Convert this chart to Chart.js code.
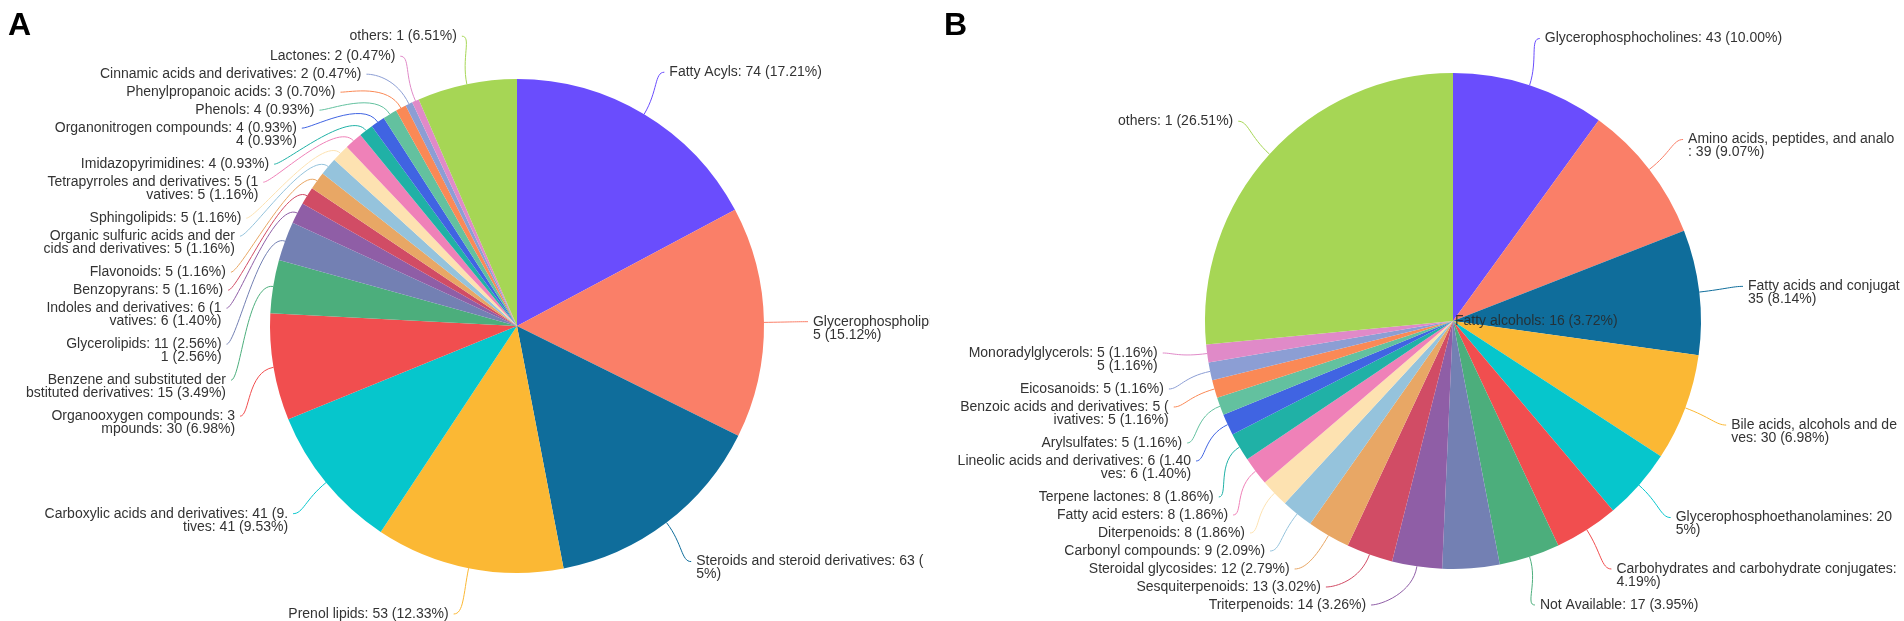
<!DOCTYPE html>
<html>
<head>
<meta charset="utf-8">
<script src="https://cdn.jsdelivr.net/npm/chart.js@4.4.1/dist/chart.umd.min.js"></script>
<style>
  html, body { margin: 0; padding: 0; background: #fff; }
  #wrap { position: relative; width: 1904px; height: 621px; overflow: hidden; }
  canvas { position: absolute; top: 0; }
  #chartA { left: 0; }
  #chartB { left: 930px; }
</style>
</head>
<body>
<div id="wrap">
  <canvas id="chartA" width="930" height="621"></canvas>
  <canvas id="chartB" width="974" height="621"></canvas>
</div>
<script>
// panel A
var catsA = ['Fatty Acyls', 'Glycerophospholipids', 'Steroids and steroid derivatives', 'Prenol lipids',
  'Carboxylic acids and derivatives', 'Organooxygen compounds', 'Benzene and substituted derivatives',
  'Glycerolipids', 'Indoles and derivatives', 'Benzopyrans', 'Flavonoids',
  'Organic sulfuric acids and derivatives', 'Sphingolipids', 'Tetrapyrroles and derivatives',
  'Imidazopyrimidines', 'Organonitrogen compounds', 'Phenols', 'Phenylpropanoic acids',
  'Cinnamic acids and derivatives', 'Lactones', 'others'];
var valuesA = [74, 65, 63, 53, 41, 30, 15, 11, 6, 5, 5, 5, 5, 5, 4, 4, 4, 3, 2, 2, 28];

// panel B
var catsB = ['Glycerophosphocholines', 'Amino acids, peptides, and analogues', 'Fatty acids and conjugates',
  'Bile acids, alcohols and derivatives', 'Glycerophosphoethanolamines',
  'Carbohydrates and carbohydrate conjugates', 'Not Available', 'Fatty alcohols', 'Triterpenoids',
  'Sesquiterpenoids', 'Steroidal glycosides', 'Carbonyl compounds', 'Diterpenoids', 'Fatty acid esters',
  'Terpene lactones', 'Lineolic acids and derivatives', 'Arylsulfates', 'Benzoic acids and derivatives',
  'Eicosanoids', 'Monoradylglycerols', 'others'];
var valuesB = [43, 39, 35, 30, 20, 18, 17, 16, 14, 13, 12, 9, 8, 8, 8, 6, 5, 5, 5, 5, 114];

// the "others" slice is labelled with count 1 in the figure
var othersShown = 1;

// labels that came out wrapped / cut in the figure
var wrapA = {
  'Glycerophospholipids': ['Glycerophospholipi', '5 (15.12%)'],
  'Steroids and steroid derivatives': ['Steroids and steroid derivatives: 63 (', '5%)'],
  'Carboxylic acids and derivatives': ['Carboxylic acids and derivatives: 41 (9.', 'tives: 41 (9.53%)'],
  'Organooxygen compounds': ['Organooxygen compounds: 3', 'mpounds: 30 (6.98%)'],
  'Benzene and substituted derivatives': ['Benzene and substituted der', 'bstituted derivatives: 15 (3.49%)'],
  'Glycerolipids': ['Glycerolipids: 11 (2.56%)', '1 (2.56%)'],
  'Indoles and derivatives': ['Indoles and derivatives: 6 (1', 'vatives: 6 (1.40%)'],
  'Organic sulfuric acids and derivatives': ['Organic sulfuric acids and der', 'cids and derivatives: 5 (1.16%)'],
  'Tetrapyrroles and derivatives': ['Tetrapyrroles and derivatives: 5 (1', 'vatives: 5 (1.16%)'],
  'Organonitrogen compounds': ['Organonitrogen compounds: 4 (0.93%)', '4 (0.93%)']
};
var wrapB = {
  'Amino acids, peptides, and analogues': ['Amino acids, peptides, and analo', ': 39 (9.07%)'],
  'Fatty acids and conjugates': ['Fatty acids and conjugat', '35 (8.14%)'],
  'Bile acids, alcohols and derivatives': ['Bile acids, alcohols and de', 'ves: 30 (6.98%)'],
  'Glycerophosphoethanolamines': ['Glycerophosphoethanolamines: 20', '5%)'],
  'Carbohydrates and carbohydrate conjugates': ['Carbohydrates and carbohydrate conjugates:', '4.19%)'],
  'Lineolic acids and derivatives': ['Lineolic acids and derivatives: 6 (1.40', 'ves: 6 (1.40%)'],
  'Benzoic acids and derivatives': ['Benzoic acids and derivatives: 5 (', 'ivatives: 5 (1.16%)'],
  'Monoradylglycerols': ['Monoradylglycerols: 5 (1.16%)', '5 (1.16%)']
};

var colors = ['#6a4dfd', '#fa7f68', '#0f6d9b', '#fbb834', '#06c6cc', '#f14e4f', '#4cae7c', '#7380b3',
  '#8f5ea6', '#d14c65', '#e8a765', '#95c3dc', '#fde2b1', '#ef81b8', '#20b1a6', '#4064e2', '#63c19f',
  '#fa8956', '#8c9ed4', '#e08ac8', '#a6d655'];

var LEN = 49;     // label distance outside the pie
var GAP = 5;      // between leader end and text
var LINE_H = 18;  // stacking height per text line
var LINE2 = 13;   // offset of the wrapped second line

function labelLines(cats, values, wrap, i) {
  var total = values.reduce(function (a, b) { return a + b; }, 0);
  var name = cats[i];
  if (wrap[name]) return wrap[name];
  var shown = name === 'others' ? othersShown : values[i];
  return [name + ': ' + shown + ' (' + (values[i] / total * 100).toFixed(2) + '%)'];
}

function calloutPlugin(cfg) {
  return {
    id: 'callout',
    afterDraw: function (chart) {
      var ctx = chart.ctx;
      var meta = chart.getDatasetMeta(0);
      var items = [];
      var center = null;
      meta.data.forEach(function (arc, i) {
        var a = (arc.startAngle + arc.endAngle) / 2;
        var it = {
          a: a, cx: arc.x, cy: arc.y, r: arc.outerRadius,
          cos: Math.cos(a), sin: Math.sin(a),
          lines: labelLines(cfg.cats, cfg.values, cfg.wrap, i),
          color: colors[i]
        };
        it.dir = it.cos >= 0 ? 1 : -1;
        it.y = it.cy + (it.r + LEN) * it.sin;
        it.h = LINE_H * it.lines.length;
        if (cfg.cats[i] === cfg.centerLabel) center = it;
        else items.push(it);
      });

      [1, -1].forEach(function (dir) {
        var side = items.filter(function (d) { return d.dir === dir; });
        side.sort(function (p, q) { return p.y - q.y; });
        var last = -1e9;
        side.forEach(function (d) {
          if (d.y < last) d.y = last;
          last = d.y + d.h;
        });
        for (var k = side.length - 1; k >= 0; k--) {
          var lim = k === side.length - 1 ? cfg.maxY : side[k + 1].y - side[k].h;
          if (side[k].y > lim) side[k].y = lim;
        }
        side.forEach(function (d) {
          var R = d.r + LEN, dy = d.y - d.cy;
          d.dx = Math.sqrt(Math.max(0, R * R - dy * dy));
        });
      });

      ctx.save();
      ctx.font = '14px "Liberation Sans", Arial, sans-serif';
      ctx.textBaseline = 'middle';
      items.forEach(function (d) {
        var p0x = d.cx + d.r * d.cos, p0y = d.cy + d.r * d.sin;
        var p1x = d.cx + (d.r + LEN * 0.55) * d.cos, p1y = d.cy + (d.r + LEN * 0.55) * d.sin;
        var tx = d.cx + d.dir * d.dx;
        var ex = tx - d.dir * GAP, ey = d.y;
        ctx.strokeStyle = d.color;
        ctx.lineWidth = 1;
        ctx.beginPath();
        ctx.moveTo(p0x, p0y);
        ctx.bezierCurveTo(p1x, p1y, ex - d.dir * 10, ey, ex, ey);
        ctx.stroke();
        ctx.fillStyle = '#333';
        ctx.textAlign = d.dir === 1 ? 'left' : 'right';
        d.lines.forEach(function (t, k) {
          ctx.fillText(t, tx, ey + k * LINE2);
        });
      });
      if (center) {
        ctx.fillStyle = 'rgba(40,40,40,0.85)';
        ctx.textAlign = 'left';
        ctx.fillText(center.lines[0], center.cx + 2, center.cy);
      }
      ctx.font = 'bold 32px "Liberation Sans", Arial, sans-serif';
      ctx.textAlign = 'left';
      ctx.textBaseline = 'alphabetic';
      ctx.fillStyle = '#000';
      ctx.fillText(cfg.letter, cfg.letterX, 35);
      ctx.restore();
    }
  };
}

function makePie(id, cats, values, wrap, padding, opts) {
  return new Chart(document.getElementById(id), {
    type: 'pie',
    data: {
      labels: cats,
      datasets: [{
        data: values,
        backgroundColor: colors,
        borderWidth: 0
      }]
    },
    options: {
      responsive: false,
      animation: false,
      devicePixelRatio: 1,
      events: [],
      layout: { padding: padding },
      plugins: { legend: { display: false }, tooltip: { enabled: false } }
    },
    plugins: [calloutPlugin({
      cats: cats, values: values, wrap: wrap,
      centerLabel: opts.centerLabel, maxY: opts.maxY,
      letter: opts.letter, letterX: opts.letterX
    })]
  });
}

makePie('chartA', catsA, valuesA, wrapA,
  { left: 270, top: 79, right: 166, bottom: 48 },
  { centerLabel: null, maxY: 614, letter: 'A', letterX: 8 });
makePie('chartB', catsB, valuesB, wrapB,
  { left: 275, top: 73, right: 203, bottom: 52 },
  { centerLabel: 'Fatty alcohols', maxY: 605, letter: 'B', letterX: 14 });
</script>
</body>
</html>
